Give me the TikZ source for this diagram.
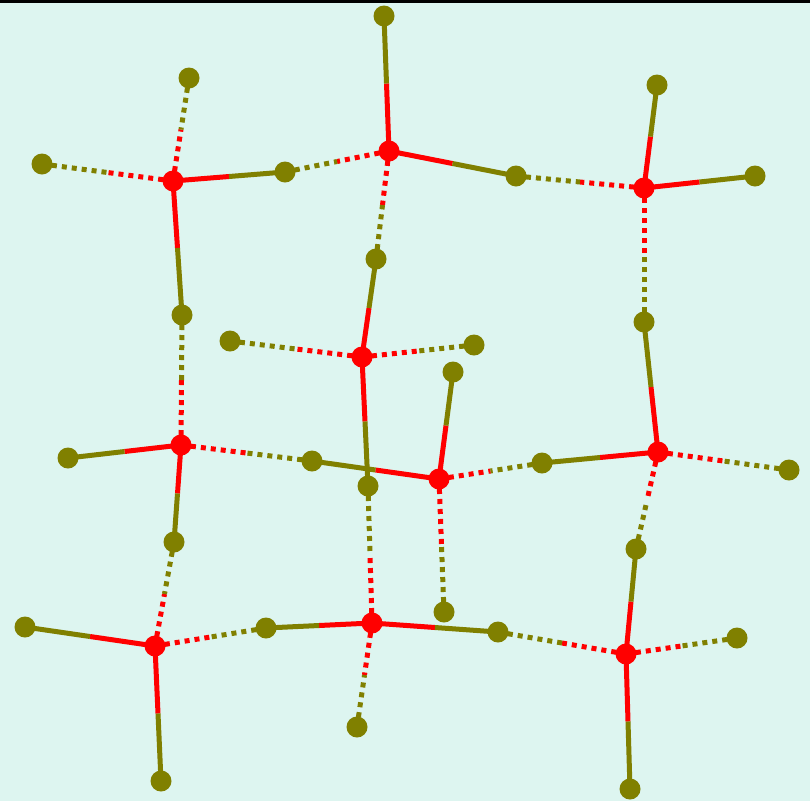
\documentclass[tikz,border=0pt]{standalone}
\usetikzlibrary{calc}
\definecolor{bgc}{RGB}{221,245,240}
\definecolor{hcol}{RGB}{128,128,0}
\definecolor{ocol}{RGB}{255,0,0}
\pgfdeclarelayer{bg}
\pgfsetlayers{bg,main}
\tikzset{
  onode/.style={circle,fill=ocol,inner sep=0pt,minimum size=21pt},
  hnode/.style={circle,fill=hcol,inner sep=0pt,minimum size=21pt},
  cov/.style={line width=5pt},
  hyd/.style={line width=5pt,dash pattern=on 5pt off 5pt},
}
\newcommand\covbond[2]{%
  \draw[cov,ocol] (#1.center) -- ($(#1.center)!0.5!(#2.center)$);
  \draw[cov,hcol] ($(#1.center)!0.5!(#2.center)$) -- (#2.center);}
\newcommand\hydbond[2]{%
  \draw[hyd,ocol] (#1.center) -- ($(#1.center)!0.5!(#2.center)$);
  \draw[hyd,hcol] (#2.center) -- ($(#1.center)!0.5!(#2.center)$);}
\begin{document}
\begin{tikzpicture}[x=1pt,y=-1pt]
\useasboundingbox (0,0) rectangle (810,801);
% oxygen nodes
\node[onode] (o1) at (173,181) {};
\node[onode] (o2) at (389,151) {};
\node[onode] (o3) at (644,188) {};
\node[onode] (o4) at (362,357) {};
\node[onode] (o5) at (181,445) {};
\node[onode] (o6) at (439,479) {};
\node[onode] (o7) at (658,452) {};
\node[onode] (o8) at (155,646) {};
\node[onode] (o9) at (372,623) {};
\node[onode] (o10) at (626,654) {};
% hydrogen nodes
\node[hnode] (h1) at (384,16) {};
\node[hnode] (h2) at (189,78) {};
\node[hnode] (h3) at (42,164) {};
\node[hnode] (h4) at (285,172) {};
\node[hnode] (h5) at (516,176) {};
\node[hnode] (h6) at (657,85) {};
\node[hnode] (h7) at (755,176) {};
\node[hnode] (h8) at (376,259) {};
\node[hnode] (h9) at (182,315) {};
\node[hnode] (h10) at (230,341) {};
\node[hnode] (h11) at (474,345) {};
\node[hnode] (h12) at (453,372) {};
\node[hnode] (h13) at (644,322) {};
\node[hnode] (h14) at (68,458) {};
\node[hnode] (h15) at (312,461) {};
\node[hnode] (h16) at (368,486) {};
\node[hnode] (h17) at (542,463) {};
\node[hnode] (h18) at (789,470) {};
\node[hnode] (h19) at (174,542) {};
\node[hnode] (h20) at (636,549) {};
\node[hnode] (h21) at (25,627) {};
\node[hnode] (h22) at (266,628) {};
\node[hnode] (h23) at (498,632) {};
\node[hnode] (h24) at (444,612) {};
\node[hnode] (h25) at (737,638) {};
\node[hnode] (h26) at (357,727) {};
\node[hnode] (h27) at (161,781) {};
\node[hnode] (h28) at (630,789) {};
\begin{pgfonlayer}{bg}
\fill[bgc] (0,0) rectangle (810,801);
\fill[black] (0,0) rectangle (810,3);
% covalent bonds
\covbond{o1}{h4}\covbond{o1}{h9}
\covbond{o2}{h1}\covbond{o2}{h5}
\covbond{o3}{h6}\covbond{o3}{h7}
\covbond{o4}{h8}\covbond{o4}{h16}
\covbond{o5}{h14}\covbond{o5}{h19}
\covbond{o6}{h12}\covbond{o6}{h15}
\covbond{o7}{h13}\covbond{o7}{h17}
\covbond{o8}{h21}\covbond{o8}{h27}
\covbond{o9}{h22}\covbond{o9}{h23}
\covbond{o10}{h20}\covbond{o10}{h28}
% hydrogen bonds
\hydbond{o1}{h2}\hydbond{o1}{h3}
\hydbond{o2}{h4}\hydbond{o2}{h8}
\hydbond{o3}{h5}\hydbond{o3}{h13}
\hydbond{o4}{h10}\hydbond{o4}{h11}
\hydbond{o5}{h9}\hydbond{o5}{h15}
\hydbond{o6}{h17}\hydbond{o6}{h24}
\hydbond{o7}{h18}\hydbond{o7}{h20}
\hydbond{o8}{h19}\hydbond{o8}{h22}
\hydbond{o9}{h16}\hydbond{o9}{h26}
\hydbond{o10}{h23}\hydbond{o10}{h25}
\end{pgfonlayer}
\end{tikzpicture}
\end{document}
